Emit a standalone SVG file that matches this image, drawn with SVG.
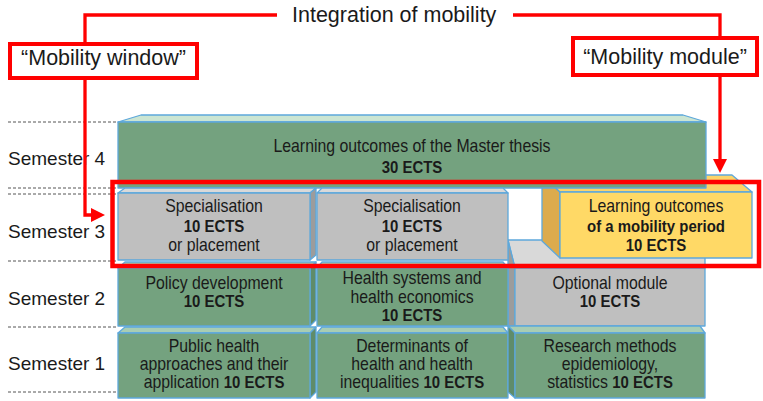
<svg xmlns="http://www.w3.org/2000/svg" width="763" height="401" viewBox="0 0 763 401">
<defs>
<style>
.bg{fill:#ffffff}
.dash{stroke:#555;stroke-width:1;stroke-dasharray:3 2;fill:none}
.f{stroke:#5ea8db;stroke-width:1.3;stroke-linejoin:round}
.gF{fill:#74a27f}.gT{fill:#a8cdb3}.gT4{fill:#cbe5d2}.gS{fill:#5f8c6a}
.yF{fill:#bfbfbf}.yT{fill:#d9d9d9}.yS{fill:#9c9c9c}
.oF{fill:#ffd966}.oT{fill:#fbd46a}.oS{fill:#dcab4d}
.t{font-family:"Liberation Sans",Arial,sans-serif;font-size:18px;fill:#1a1a1a;text-anchor:middle}
.b{font-weight:bold;font-size:17px}
.sem{font-family:"Liberation Sans",Arial,sans-serif;font-size:19px;fill:#1a1a1a}
.lbl{font-family:"Liberation Sans",Arial,sans-serif;font-size:21.5px;fill:#1a1a1a}
.red{stroke:#ff0000;fill:none}
</style>
<marker id="arr" viewBox="0 0 14 14" refX="0" refY="7" markerWidth="14" markerHeight="14" markerUnits="userSpaceOnUse" orient="auto">
<path d="M0 0 L14 7 L0 14 Z" fill="#ff0000"/>
</marker>
</defs>
<rect class="bg" x="0" y="0" width="763" height="401"/>

<g id="grid">
<path class="dash" d="M8 122H118M8 188H118M8 194H118M8 261H118M8 327H118M8 392H118"/>
</g>

<g id="optional-module">
<polygon class="f yT" points="508,240 705,240 705,268 515,268"/>
<polygon class="f yS" points="508,240 515,268 515,326 508,326"/>
<rect class="f yF" x="515" y="268" width="190" height="58"/>
<g transform="translate(610 0) scale(0.88 1)">
<text class="t" x="0" y="289">Optional module</text>
<text class="t b" x="0" y="307">10 ECTS</text>
</g>
</g>

<g id="mobility-period">
<polygon class="f oS" points="542,175 560,192 560,258 542,241"/>
<polygon class="f oT" points="542,175 732,175 752,192 560,192"/>
<rect class="f oF" x="560" y="192" width="192" height="66"/>
<g transform="translate(656 0) scale(0.88 1)">
<text class="t" x="0" y="212">Learning outcomes</text>
<text class="t b" x="0" y="232">of a mobility period</text>
<text class="t b" x="0" y="251">10 ECTS</text>
</g>
</g>

<g id="master-thesis">
<polygon class="f gT4" points="118,122 141,115 683,115 706,122"/>
<rect class="f gF" x="118" y="122" width="588" height="66"/>
<g transform="translate(412 0) scale(0.88 1)">
<text class="t" x="0" y="152">Learning outcomes of the Master thesis</text>
<text class="t b" x="0" y="173">30 ECTS</text>
</g>
</g>

<g id="specialisation-1">
<polygon class="f yT" points="118,193 125,188 316,188 310,193"/>
<polygon class="f yS" points="310,193 316,188 316,255 310,260"/>
<rect class="f yF" x="118" y="193" width="192" height="67"/>
<g transform="translate(214 0) scale(0.88 1)">
<text class="t" x="0" y="212">Specialisation</text>
<text class="t b" x="0" y="232">10 ECTS</text>
<text class="t" x="0" y="251">or placement</text>
</g>
</g>

<g id="specialisation-2">
<polygon class="f yT" points="317,193 322,188 503,188 508,193"/>
<rect class="f yF" x="317" y="193" width="191" height="67"/>
<g transform="translate(412 0) scale(0.88 1)">
<text class="t" x="0" y="212">Specialisation</text>
<text class="t b" x="0" y="232">10 ECTS</text>
<text class="t" x="0" y="251">or placement</text>
</g>
</g>

<g id="policy-development">
<polygon class="f gT" points="118,268 125,262 316,262 310,268"/>
<polygon class="f gS" points="310,268 316,262 316,320 310,326"/>
<rect class="f gF" x="118" y="268" width="192" height="58"/>
<g transform="translate(214 0) scale(0.88 1)">
<text class="t" x="0" y="289">Policy development</text>
<text class="t b" x="0" y="307">10 ECTS</text>
</g>
</g>

<g id="health-systems">
<polygon class="f gT" points="317,268 322,262 503,262 508,268"/>
<rect class="f gF" x="317" y="268" width="191" height="58"/>
<g transform="translate(412 0) scale(0.88 1)">
<text class="t" x="0" y="284">Health systems and</text>
<text class="t" x="0" y="303">health economics</text>
<text class="t b" x="0" y="321">10 ECTS</text>
</g>
</g>

<g id="public-health">
<polygon class="f gT" points="118,333 125,327 316,327 310,333"/>
<polygon class="f gS" points="310,333 316,327 316,392 310,398"/>
<rect class="f gF" x="118" y="333" width="192" height="65"/>
<g transform="translate(214 0) scale(0.88 1)">
<text class="t" x="0" y="352">Public health</text>
<text class="t" x="0" y="370">approaches and their</text>
<text class="t" x="0" y="388">application <tspan class="b">10 ECTS</tspan></text>
</g>
</g>

<g id="determinants">
<polygon class="f gT" points="317,333 322,327 503,327 508,333"/>
<rect class="f gF" x="317" y="333" width="191" height="65"/>
<g transform="translate(412 0) scale(0.88 1)">
<text class="t" x="0" y="352">Determinants of</text>
<text class="t" x="0" y="370">health and health</text>
<text class="t" x="0" y="388">inequalities <tspan class="b">10 ECTS</tspan></text>
</g>
</g>

<g id="research-methods">
<polygon class="f gT" points="508,326 700,326 705,333 515,333"/>
<polygon class="f gS" points="508,326 515,333 515,398 508,392"/>
<rect class="f gF" x="515" y="333" width="190" height="65"/>
<g transform="translate(610 0) scale(0.88 1)">
<text class="t" x="0" y="352">Research methods</text>
<text class="t" x="0" y="370">epidemiology,</text>
<text class="t" x="0" y="388">statistics <tspan class="b">10 ECTS</tspan></text>
</g>
</g>

<g id="semester-labels">
<text class="sem" x="8" y="165">Semester 4</text>
<text class="sem" x="8" y="238">Semester 3</text>
<text class="sem" x="8" y="305">Semester 2</text>
<text class="sem" x="8" y="370">Semester 1</text>
</g>

<g id="title">
<text class="lbl" x="292" y="22">Integration of mobility</text>
</g>

<g id="mobility-window">
<rect class="red" x="10" y="44" width="187" height="34" stroke-width="4"/>
<text class="lbl" x="103.5" y="65" text-anchor="middle">“Mobility window”</text>
</g>

<g id="mobility-module">
<rect class="red" x="573" y="38" width="184" height="37" stroke-width="4"/>
<text class="lbl" x="665" y="64" text-anchor="middle">“Mobility module”</text>
</g>

<g id="semester3-frame">
<rect class="red" x="112.5" y="182" width="646.5" height="84" stroke-width="4.5"/>
</g>

<g id="connectors">
<path class="red" stroke-width="3.3" d="M277 15H85V42"/>
<path class="red" stroke-width="3.3" d="M85 80V215H91" marker-end="url(#arr)"/>
<path class="red" stroke-width="3.3" d="M513 15H720V36"/>
<path class="red" stroke-width="3.3" d="M720 77V159" marker-end="url(#arr)"/>
</g>
</svg>
